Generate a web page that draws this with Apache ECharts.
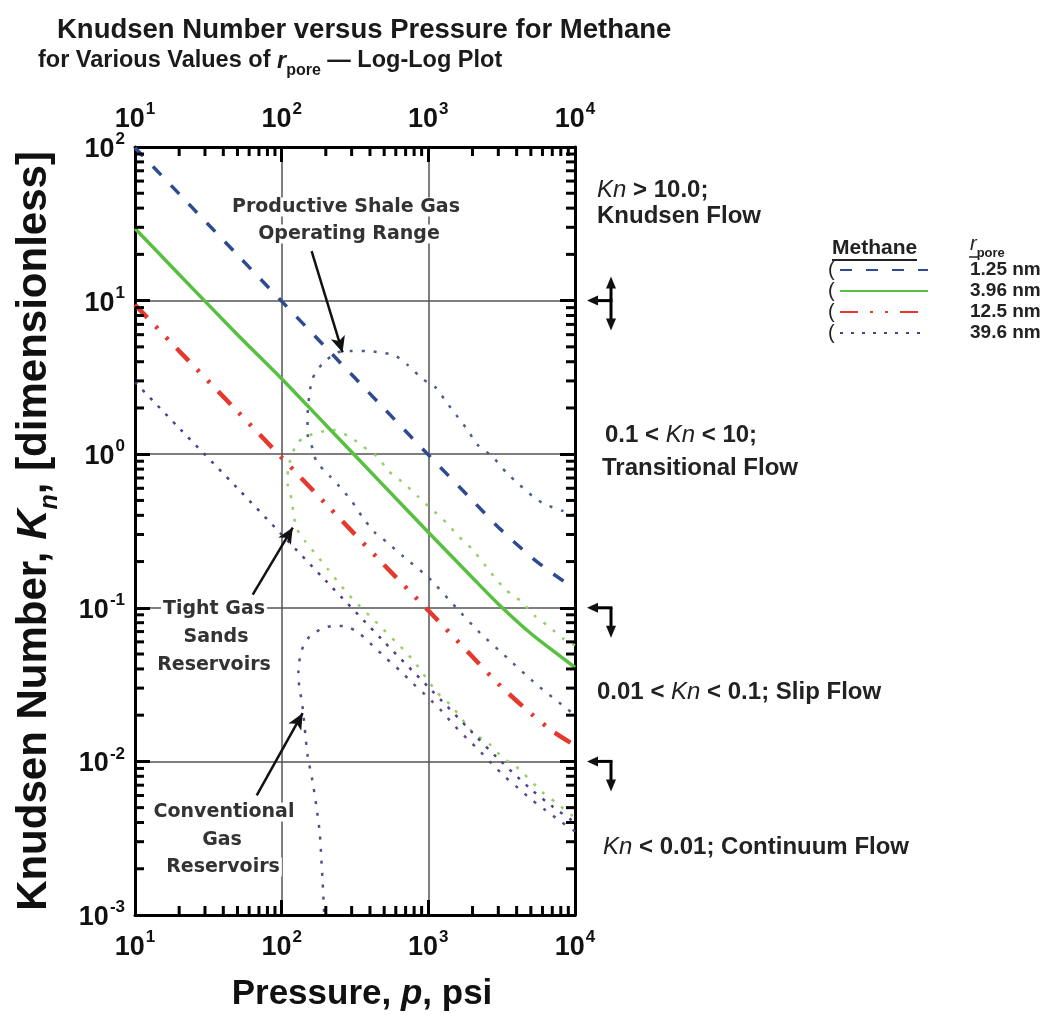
<!DOCTYPE html>
<html>
<head>
<meta charset="utf-8">
<title>Knudsen Number versus Pressure for Methane</title>
<script src="https://cdn.jsdelivr.net/npm/echarts@6/dist/echarts.min.js"></script>
<style>
  html, body { margin: 0; padding: 0; background: #fff; }
  #chart { width: 1048px; height: 1015px; }
</style>
</head>
<body>
<div id="chart"></div>
<script>
const FONT = '"Liberation Sans", Arial, sans-serif'
const ANNO_FONT = '"DejaVu Sans", Verdana, sans-serif'

// pressure, psi (x values of the four methane curves)
const pressure = [10, 20, 50, 100, 200, 500, 1000, 2000, 3000, 5000, 7000, 10000]
// Knudsen number for each pore radius
const knR125 = [99, 49.5, 19.8, 9.9, 4.95, 1.98, 0.99, 0.5, 0.335, 0.215, 0.168, 0.133]
const knR396 = [29.5, 14.8, 6.0, 3.1, 1.55, 0.62, 0.31, 0.157, 0.106, 0.068, 0.053, 0.041]
const knR1250 = [9.4, 4.7, 1.9, 0.95, 0.475, 0.19, 0.096, 0.048, 0.032, 0.0205, 0.0158, 0.0127]
const knR3960 = [2.95, 1.48, 0.6, 0.3, 0.15, 0.06, 0.0305, 0.0154, 0.0104, 0.0066, 0.0051, 0.004]

// operating range outlines, [pressure, Kn]
const shaleRange = [[10000, 0.40], [8100, 0.43], [6300, 0.47], [5300, 0.52], [4200, 0.63], [3400, 0.76],
  [2750, 0.96], [2150, 1.16], [1850, 1.44], [1550, 1.8], [1320, 2.2], [1130, 2.7], [910, 3.1], [725, 3.8],
  [590, 4.4], [465, 4.6], [380, 4.7], [303, 4.7], [240, 4.6], [190, 3.9], [162, 3.1], [155, 2.5], [151, 2.0],
  [150, 1.7], [151, 1.3], [162, 1.1], [173, 0.89], [213, 0.72], [258, 0.59], [303, 0.49], [355, 0.39],
  [430, 0.31], [515, 0.27], [660, 0.22], [1020, 0.155], [1550, 0.1], [2240, 0.069], [3470, 0.047],
  [5400, 0.032], [8300, 0.023], [10000, 0.02]]
const tightGasRange = [[10000, 0.057], [8300, 0.063], [6800, 0.074], [5300, 0.089], [4300, 0.11], [3400, 0.13],
  [2800, 0.16], [2000, 0.24], [1620, 0.29], [1320, 0.36], [1050, 0.44], [850, 0.53], [690, 0.64], [540, 0.77],
  [450, 0.96], [360, 1.12], [290, 1.3], [225, 1.44], [187, 1.4], [155, 1.33], [129, 1.2], [118, 1.0],
  [110, 0.78], [110, 0.62], [117, 0.51], [120, 0.42], [126, 0.33], [145, 0.27], [173, 0.22], [205, 0.18],
  [240, 0.149], [290, 0.12], [450, 0.079], [670, 0.054], [810, 0.044], [1150, 0.028], [1440, 0.023],
  [2000, 0.0155], [2600, 0.013], [3200, 0.0106], [4000, 0.0092], [6000, 0.0063], [7400, 0.0054],
  [9400, 0.0045], [10000, 0.0043]]
const conventionalRange = [[10000, 0.0035], [7900, 0.0041], [6300, 0.0048], [5100, 0.0056], [4100, 0.0067],
  [3300, 0.008], [2700, 0.0097], [2200, 0.0119], [1820, 0.0142], [1470, 0.0175], [1240, 0.0212],
  [1000, 0.026], [790, 0.032], [640, 0.039], [515, 0.047], [415, 0.057], [340, 0.068], [270, 0.076],
  [218, 0.076], [182, 0.072], [155, 0.065], [140, 0.056], [133, 0.047], [130, 0.038], [132, 0.03],
  [137, 0.025], [140, 0.021], [145, 0.015], [150, 0.011], [162, 0.0075], [173, 0.005], [182, 0.0034],
  [186, 0.0024], [190, 0.0017], [195, 0.001]]

// annotation arrows [from, to] in data space
const shaleArrow = [[160, 21], [260, 4.6]]
const tightGasArrow = [[63.5, 0.122], [119, 0.333]]
const conventionalArrow = [[67.6, 0.006], [139, 0.0206]]

// flow regime boundaries drawn right of the frame (2 = up and down, 1 = down)
const regimeLimits = [10, 0.1, 0.01]
const regimeArrowKind = [2, 1, 1]

// minor tick positions
const xMinorTicks = [20, 30, 40, 50, 60, 70, 80, 90, 200, 300, 400, 500, 600, 700, 800, 900,
  2000, 3000, 4000, 5000, 6000, 7000, 8000, 9000]
const yMinorTicks = [0.002, 0.003, 0.004, 0.005, 0.006, 0.007, 0.008, 0.009,
  0.02, 0.03, 0.04, 0.05, 0.06, 0.07, 0.08, 0.09,
  0.2, 0.3, 0.4, 0.5, 0.6, 0.7, 0.8, 0.9,
  2, 3, 4, 5, 6, 7, 8, 9,
  20, 30, 40, 50, 60, 70, 80, 90]

const chart = echarts.init(document.getElementById('chart'))

const tickRich = {
  b: { fontSize: 27, fontWeight: 'bold', fontFamily: FONT, color: '#111', verticalAlign: 'bottom' },
  s: { fontSize: 17, fontWeight: 'bold', fontFamily: FONT, color: '#111', verticalAlign: 'bottom', padding: [0, 0, 15, 1] }
}
const powerLabel = v => '{b|10}{s|' + Math.round(Math.log10(v)) + '}'

function logAxis(min, max, position, extra) {
  return Object.assign({
    type: 'log',
    logBase: 10,
    min: min,
    max: max,
    position: position,
    axisLine: { show: true, onZero: false, lineStyle: { color: '#000', width: 3 } },
    axisTick: { show: true, inside: true, length: 15, lineStyle: { color: '#000', width: 3 } },
    axisLabel: { show: true, margin: 12, formatter: powerLabel, rich: tickRich, showMinLabel: true, showMaxLabel: true },
    splitLine: { show: false }
  }, extra)
}

function curve(name, values, color, width, dash) {
  return {
    name: name,
    type: 'line',
    data: pressure.map((p, i) => [p, values[i]]),
    symbol: 'none',
    smooth: 0.3,
    color: color,
    itemStyle: { color: color },
    lineStyle: { color: color, width: width, type: dash },
    z: 4
  }
}

function rangeCurve(name, points, color, arrow) {
  return {
    name: name,
    type: 'line',
    data: points,
    symbol: 'none',
    smooth: 0.2,
    color: color,
    lineStyle: { color: color, width: 2.5, type: [3, 9] },
    markLine: {
      silent: true,
      symbol: ['none', 'arrow'],
      symbolSize: [11, 16],
      label: { show: false },
      lineStyle: { color: '#111', width: 2.5, type: 'solid' },
      data: [[{ coord: arrow[0] }, { coord: arrow[1] }]]
    },
    z: 3
  }
}

function seg(x1, y1, x2, y2, w) {
  return { type: 'line', shape: { x1: x1, y1: y1, x2: x2, y2: y2 }, style: { stroke: '#000', lineWidth: w || 3 } }
}
function head(points) {
  return { type: 'polygon', shape: { points: points }, style: { fill: '#111' } }
}

function txt(x, y, text, rich, opts) {
  return {
    type: 'text',
    x: x,
    y: y,
    silent: true,
    z: 20,
    style: Object.assign({
      text: text,
      fill: '#222',
      fontSize: 24,
      fontWeight: 'bold',
      fontFamily: FONT,
      align: 'left',
      verticalAlign: 'middle',
      rich: rich || {}
    }, opts)
  }
}

const knRich = {
  k: { fontSize: 24, fontStyle: 'italic', fontWeight: 'normal', fontFamily: FONT, fill: '#222' },
  t: { fontSize: 24, fontWeight: 'bold', fontFamily: FONT, fill: '#222' }
}
const anno = { fontFamily: ANNO_FONT, fontSize: 19, fill: '#333', align: 'center', backgroundColor: '#fff', padding: [0, 2] }

const legendRows = [270, 291, 312, 333]

chart.setOption({
  animation: false,
  backgroundColor: '#fff',
  title: [
    {
      text: 'Knudsen Number versus Pressure for Methane',
      left: 57,
      top: 16,
      padding: 0,
      textStyle: { fontSize: 27.5, fontWeight: 'bold', fontFamily: FONT, color: '#1a1a1a' }
    },
    {
      text: '{t|for Various Values of }{r|r}{p|pore}{t| \u2014 Log-Log Plot}',
      left: 38,
      top: 49,
      padding: 0,
      textStyle: {
        rich: {
          t: { fontSize: 23.5, fontWeight: 'bold', fontFamily: FONT, color: '#1a1a1a', verticalAlign: 'bottom', padding: [0, 0, 6, 0] },
          r: { fontSize: 23.5, fontStyle: 'italic', fontFamily: FONT, color: '#1a1a1a', verticalAlign: 'bottom', padding: [0, 0, 6, 0] },
          p: { fontSize: 16, fontWeight: 'bold', fontFamily: FONT, color: '#1a1a1a', verticalAlign: 'bottom' }
        }
      }
    }
  ],
  grid: { left: 135, right: 473, top: 147, bottom: 100, containLabel: false, outerBoundsMode: 'none' },
  legend: {
    data: ['1.25 nm', '3.96 nm', '12.5 nm', '39.6 nm'],
    orient: 'vertical',
    left: 839,
    top: legendRows[0] - 10,
    padding: 0,
    itemWidth: 88,
    itemHeight: 12,
    itemGap: 1,
    selectedMode: false,
    itemStyle: { opacity: 0 },
    textStyle: { fontSize: 19, fontWeight: 'bold', fontFamily: FONT, color: '#222', lineHeight: 20, padding: [0, 0, 0, 37] }
  },
  xAxis: [
    logAxis(10, 10000, 'bottom', {
      name: '{a|Pressure, }{i|p}{a|, psi}',
      nameLocation: 'middle',
      nameGap: 62,
      nameTextStyle: {
        padding: [0, 0, 0, 14],
        rich: {
          a: { fontSize: 35, fontWeight: 'bold', fontFamily: FONT, color: '#111' },
          i: { fontSize: 35, fontWeight: 'bold', fontStyle: 'italic', fontFamily: FONT, color: '#111' }
        }
      },
      axisLabel: { show: true, margin: 14, formatter: powerLabel, rich: tickRich, showMinLabel: true, showMaxLabel: true },
      splitLine: { show: true, lineStyle: { color: '#555', width: 1.5 } }
    }),
    logAxis(10, 10000, 'top', {
      axisLabel: { show: true, margin: 14, formatter: powerLabel, rich: tickRich, showMinLabel: true, showMaxLabel: true }
    })
  ],
  yAxis: [
    logAxis(0.001, 100, 'left', {
      name: '{a|Knudsen Number, }{k|K}{n|n}{a|, [dimensionless]}',
      nameLocation: 'middle',
      nameGap: 72,
      nameRotate: 90,
      nameTextStyle: {
        rich: {
          a: { fontSize: 42, fontWeight: 'bold', fontFamily: FONT, color: '#111', verticalAlign: 'bottom', padding: [0, 0, 8, 0] },
          k: { fontSize: 42, fontWeight: 'bold', fontStyle: 'italic', fontFamily: FONT, color: '#111', verticalAlign: 'bottom', padding: [0, 0, 8, 0] },
          n: { fontSize: 25, fontWeight: 'bold', fontStyle: 'italic', fontFamily: FONT, color: '#111', verticalAlign: 'bottom' }
        }
      },
      axisLabel: { show: true, margin: 10, formatter: powerLabel, rich: tickRich, showMinLabel: true, showMaxLabel: true },
      splitLine: { show: true, lineStyle: { color: '#555', width: 1.5 } }
    }),
    logAxis(0.001, 100, 'right', { axisLabel: { show: false } })
  ],
  series: [
    rangeCurve('shale', shaleRange, '#4d5b8e', shaleArrow),
    rangeCurve('tight', tightGasRange, '#96cf6a', tightGasArrow),
    rangeCurve('conventional', conventionalRange, '#5d4a8c', conventionalArrow),
    curve('1.25 nm', knR125, '#2f4b8f', 3.5, [12, 14]),
    curve('3.96 nm', knR396, '#58c040', 3.5, 'solid'),
    curve('12.5 nm', knR1250, '#e5392e', 4.5, [18, 12, 3, 12, 3, 12]),
    curve('39.6 nm', knR3960, '#4c3f8e', 2.5, [3, 8]),
    {
      // minor ticks on bottom and top
      type: 'custom',
      silent: true,
      z: 6,
      clip: false,
      data: xMinorTicks.map(v => [v, 1]),
      renderItem: (params, api) => {
        const b = api.coord([api.value(0), 0.001])
        const t = api.coord([api.value(0), 100])
        return { type: 'group', children: [seg(b[0], b[1], b[0], b[1] - 9), seg(t[0], t[1], t[0], t[1] + 9)] }
      }
    },
    {
      // minor ticks on left and right
      type: 'custom',
      silent: true,
      z: 6,
      clip: false,
      data: yMinorTicks.map(v => [10, v]),
      renderItem: (params, api) => {
        const l = api.coord([10, api.value(1)])
        const r = api.coord([10000, api.value(1)])
        return { type: 'group', children: [seg(l[0], l[1], l[0] + 9, l[1]), seg(r[0], r[1], r[0] - 9, r[1])] }
      }
    },
    {
      // regime boundary arrows outside the right edge
      type: 'custom',
      silent: true,
      z: 6,
      clip: false,
      data: regimeLimits.map((v, i) => [10000, v, regimeArrowKind[i]]),
      renderItem: (params, api) => {
        const p = api.coord([api.value(0), api.value(1)])
        const x0 = p[0] + 12
        const xv = p[0] + 36
        const y = p[1]
        const kids = [
          seg(x0 + 8, y, xv + 1.5, y),
          head([[x0, y], [x0 + 11, y - 5], [x0 + 11, y + 5]])
        ]
        if (api.value(2) === 2) {
          kids.push(seg(xv, y - 14, xv, y + 20))
          kids.push(head([[xv, y - 24], [xv - 5, y - 12], [xv + 5, y - 12]]))
          kids.push(head([[xv, y + 30], [xv - 5, y + 18], [xv + 5, y + 18]]))
        } else {
          kids.push(seg(xv, y, xv, y + 20))
          kids.push(head([[xv, y + 30], [xv - 5, y + 18], [xv + 5, y + 18]]))
        }
        return { type: 'group', children: kids }
      }
    }
  ],
  graphic: [
    // flow regimes
    txt(597, 190, '{k|Kn}{t| > 10.0;}', knRich),
    txt(597, 216, 'Knudsen Flow'),
    txt(605, 435, '{t|0.1 < }{k|Kn}{t| < 10;}', knRich),
    txt(602, 468, 'Transitional Flow'),
    txt(597, 692, '{t|0.01 < }{k|Kn}{t| < 0.1; Slip Flow}', knRich),
    txt(603, 847, '{k|Kn}{t| < 0.01; Continuum Flow}', knRich),
    // operating range labels
    txt(346, 207, 'Productive Shale Gas', null, anno),
    txt(349, 234, 'Operating Range', null, anno),
    txt(214, 609, 'Tight Gas', null, anno),
    txt(216, 637, 'Sands', null, anno),
    txt(214, 665, 'Reservoirs', null, anno),
    txt(224, 812, 'Conventional', null, anno),
    txt(222, 840, 'Gas', null, anno),
    txt(223, 867, 'Reservoirs', null, anno),
    // legend headings
    txt(832, 248, 'Methane', null, { fontSize: 21 }),
    { type: 'line', silent: true, shape: { x1: 832, y1: 260, x2: 917, y2: 260 }, style: { stroke: '#222', lineWidth: 2 } },
    txt(970, 247, '{r|r}{p|pore}', {
      r: { fontSize: 20, fontStyle: 'italic', fontFamily: FONT, fill: '#222', verticalAlign: 'bottom', padding: [0, 0, 5, 0] },
      p: { fontSize: 13, fontWeight: 'bold', fontFamily: FONT, fill: '#222', verticalAlign: 'bottom' }
    }),
    { type: 'line', silent: true, shape: { x1: 969, y1: 257, x2: 978, y2: 257 }, style: { stroke: '#222', lineWidth: 1.5 } },
    txt(828, legendRows[0], '(', null, { fontWeight: 'normal', fontSize: 20 }),
    txt(828, legendRows[1], '(', null, { fontWeight: 'normal', fontSize: 20 }),
    txt(828, legendRows[2], '(', null, { fontWeight: 'normal', fontSize: 20 }),
    txt(828, legendRows[3], '(', null, { fontWeight: 'normal', fontSize: 20 })
  ]
})
</script>
</body>
</html>
